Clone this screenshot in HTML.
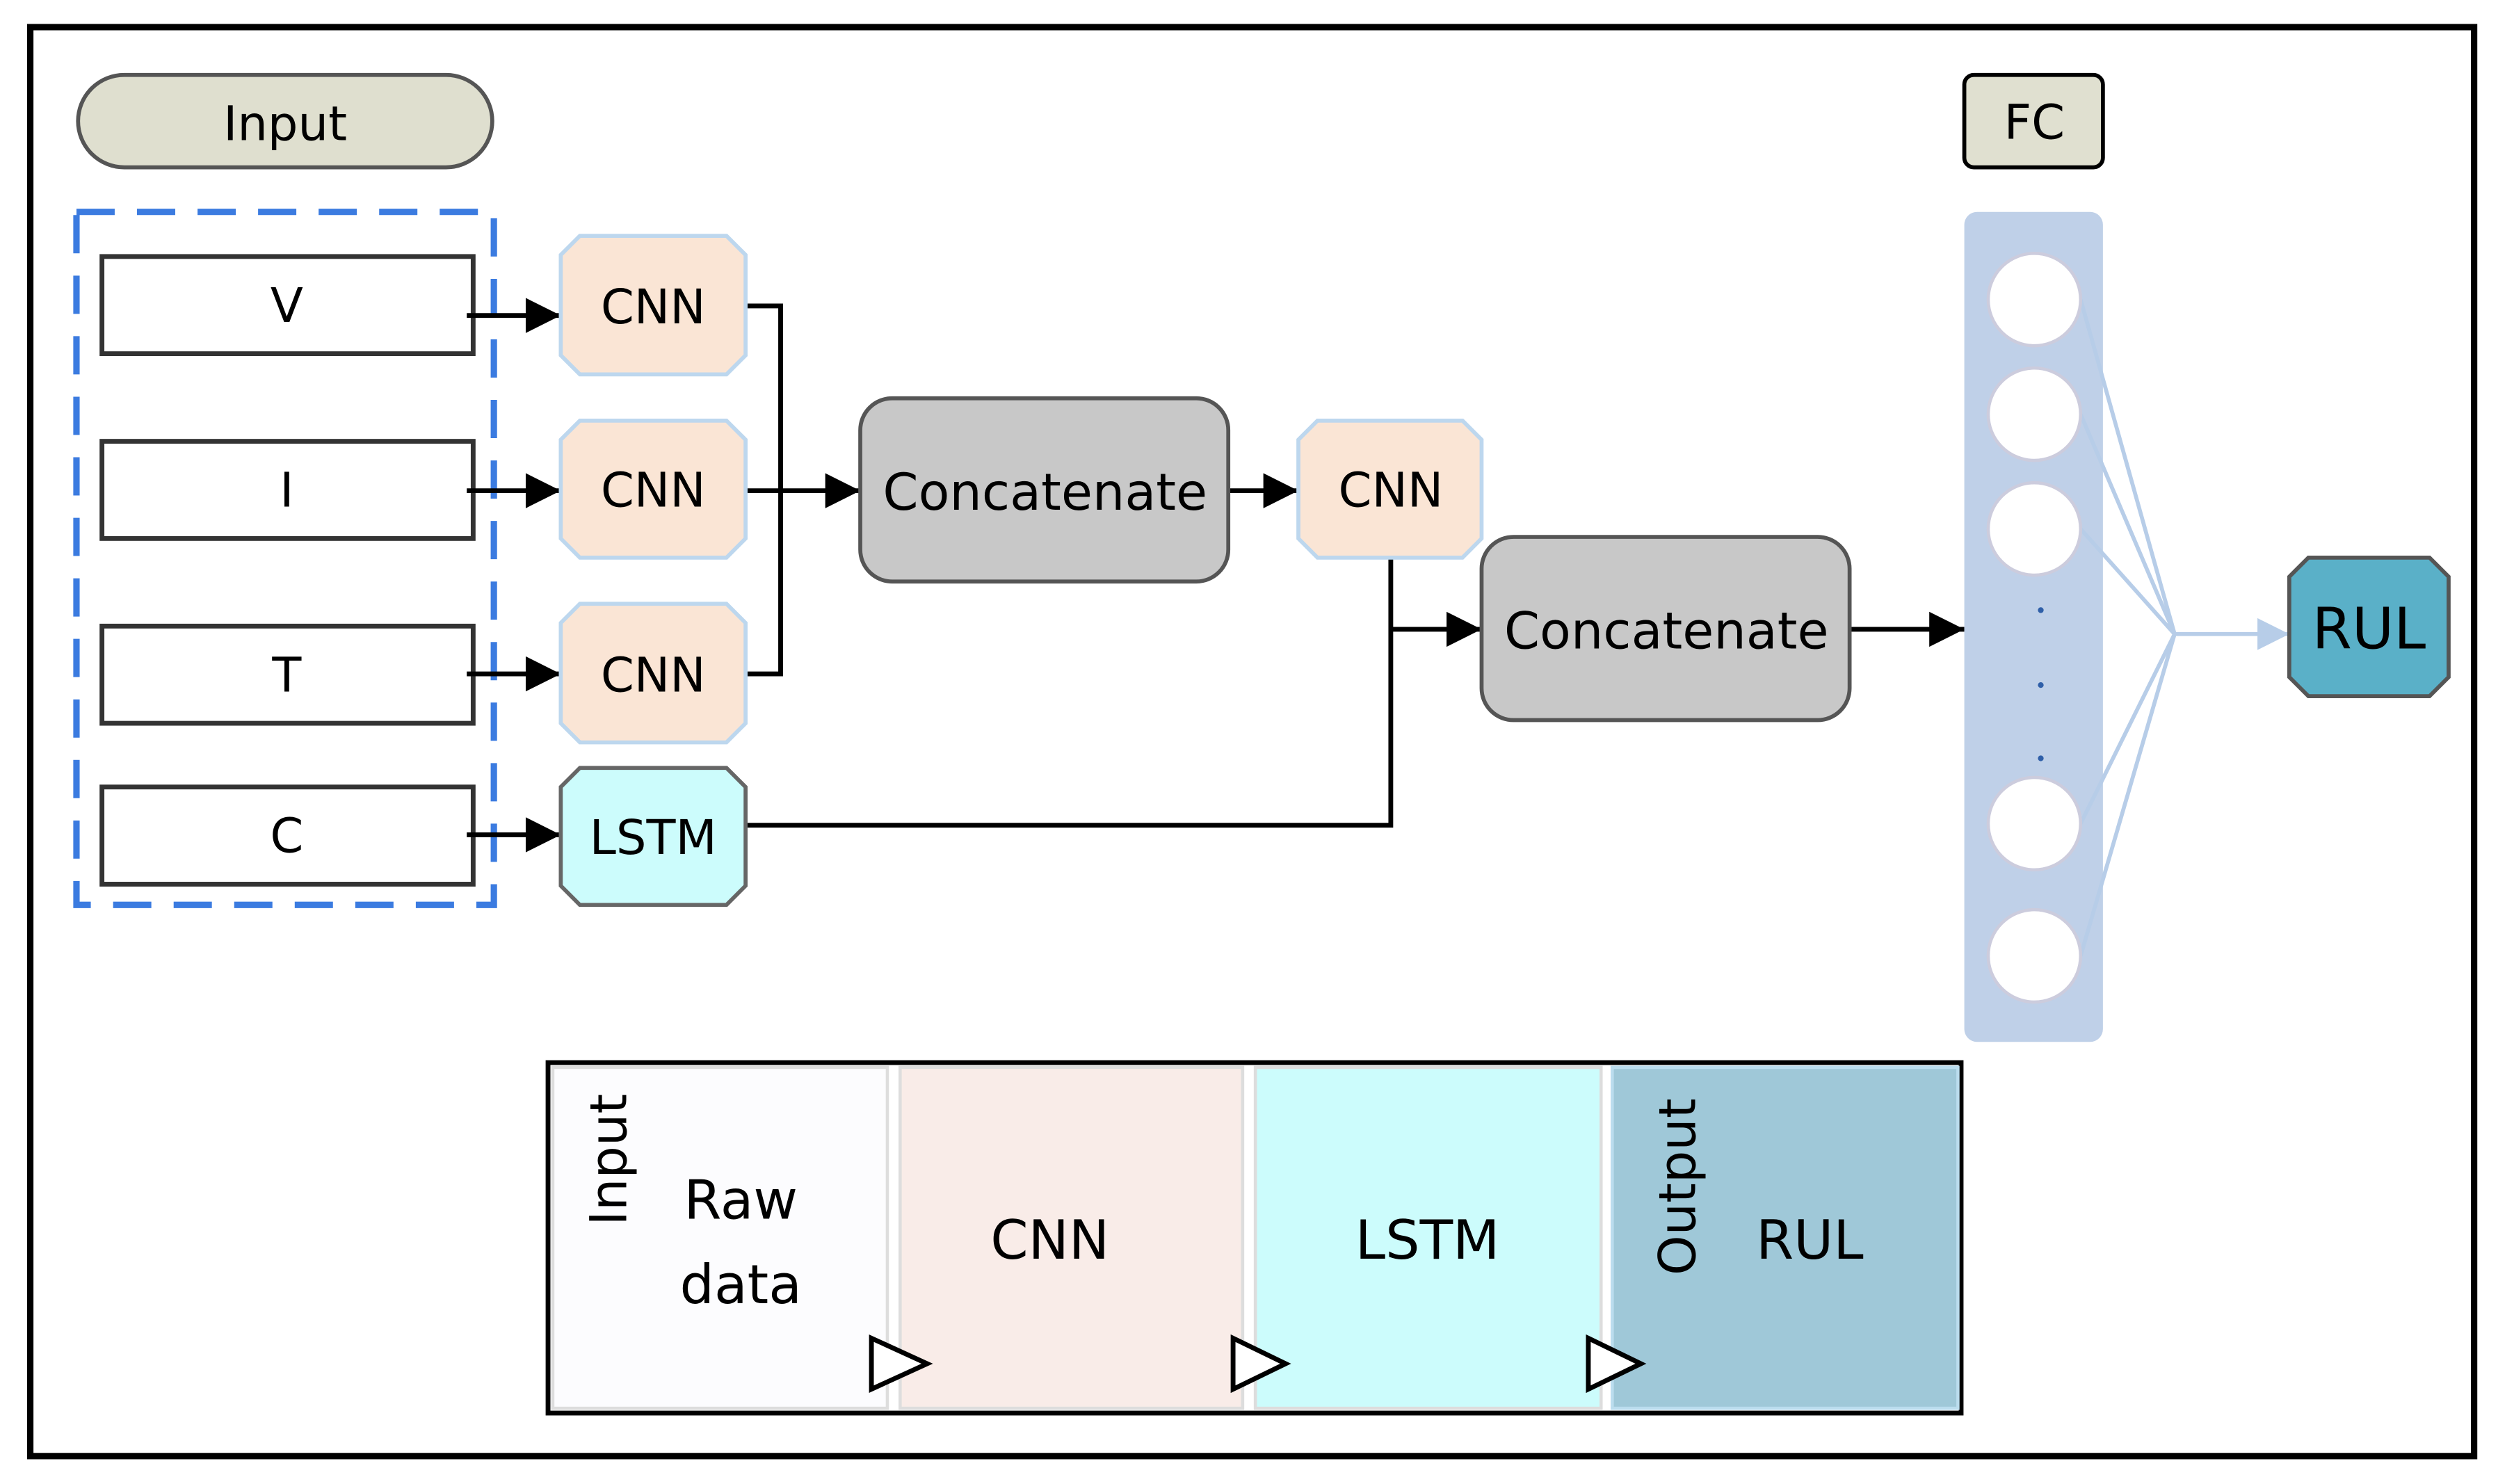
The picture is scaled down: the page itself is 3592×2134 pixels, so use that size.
<!DOCTYPE html>
<html><head><meta charset="utf-8"><style>html,body{margin:0;padding:0;background:#fff}svg{display:block}</style></head><body>
<svg width="3592" height="2134" viewBox="0 0 1568 931.5" xmlns="http://www.w3.org/2000/svg" font-family="'DejaVu Sans','Liberation Sans',sans-serif">
<defs>
<marker id="a" markerWidth="10" markerHeight="10" refX="9" refY="5" orient="auto" markerUnits="userSpaceOnUse"><path d="M0,0 L10,5 L0,10z" fill="#000" transform="scale(1)"/></marker>
<marker id="ab" viewBox="0 0 10 10" markerWidth="24" markerHeight="22" refX="10" refY="5" orient="auto" markerUnits="userSpaceOnUse"><path d="M0,0 L10,5 L0,10z" fill="#000"/></marker>
<marker id="al" viewBox="0 0 10 10" markerWidth="22" markerHeight="20" refX="10" refY="5" orient="auto" markerUnits="userSpaceOnUse"><path d="M0,0 L10,5 L0,10z" fill="#b7cde8"/></marker>
</defs>
<rect x="0" y="0" width="1568" height="932" fill="#fff"/>
<rect x="19" y="17" width="1534" height="897" fill="none" stroke="#000" stroke-width="4"/>
<rect x="49" y="47" width="260" height="58" rx="29" fill="#dfdfcf" stroke="#555" stroke-width="2.5"/>
<text x="179" y="88" font-size="30" text-anchor="middle">Input</text>
<rect x="48" y="133" width="262" height="435" fill="none" stroke="#3b7be0" stroke-width="4" stroke-dasharray="24 14"/>
<g fill="#fff" stroke="#333" stroke-width="3">
<rect x="64" y="161" width="233" height="61"/><rect x="64" y="277" width="233" height="61"/>
<rect x="64" y="393" width="233" height="61"/><rect x="64" y="494" width="233" height="61"/>
</g>
<g font-size="30" text-anchor="middle">
<text x="180" y="202">V</text><text x="180" y="318">I</text><text x="180" y="434">T</text><text x="180" y="535">C</text>
</g>
<g stroke="#000" stroke-width="3" fill="none">
<line x1="293" y1="198" x2="352" y2="198" marker-end="url(#ab)"/>
<line x1="293" y1="308" x2="352" y2="308" marker-end="url(#ab)"/>
<line x1="293" y1="423" x2="352" y2="423" marker-end="url(#ab)"/>
<line x1="293" y1="524" x2="352" y2="524" marker-end="url(#ab)"/>
<polyline points="468,192 490,192 490,423 468,423"/>
<line x1="468" y1="308" x2="540" y2="308" marker-end="url(#ab)"/>
<line x1="771" y1="308" x2="815" y2="308" marker-end="url(#ab)"/>
<polyline points="873,350 873,518 468,518"/>
<line x1="873" y1="395" x2="930" y2="395" marker-end="url(#ab)"/>
<line x1="1161" y1="395" x2="1233" y2="395" marker-end="url(#ab)"/>
</g>
<g stroke="#bdd7ee" stroke-width="2.5" fill="#fae5d5">
<path d="M364,148 L456,148 L468,160 L468,223 L456,235 L364,235 L352,223 L352,160z"/>
<path d="M364,264 L456,264 L468,276 L468,338 L456,350 L364,350 L352,338 L352,276z"/>
<path d="M364,379 L456,379 L468,391 L468,454 L456,466 L364,466 L352,454 L352,391z"/>
<path d="M827,264 L918,264 L930,276 L930,338 L918,350 L827,350 L815,338 L815,276z"/>
</g>
<path d="M364,482 L456,482 L468,494 L468,556 L456,568 L364,568 L352,556 L352,494z" fill="#ccfcfc" stroke="#666" stroke-width="2.5"/>
<g font-size="30" text-anchor="middle">
<text x="410" y="203">CNN</text><text x="410" y="318">CNN</text><text x="410" y="434">CNN</text>
<text x="873" y="318">CNN</text><text x="410" y="536">LSTM</text>
</g>
<rect x="540" y="250" width="231" height="115" rx="20" fill="#c8c8c8" stroke="#555" stroke-width="2.5"/>
<text x="656" y="320" font-size="32" text-anchor="middle">Concatenate</text>
<rect x="930" y="337" width="231" height="115" rx="20" fill="#c8c8c8" stroke="#555" stroke-width="2.5"/>
<text x="1046" y="407" font-size="32" text-anchor="middle">Concatenate</text>
<rect x="1233" y="47" width="87" height="58" rx="6" fill="#e0e0d0" stroke="#000" stroke-width="2.5"/>
<text x="1277" y="87" font-size="30" text-anchor="middle">FC</text>
<rect x="1233" y="133" width="87" height="521" rx="8" fill="#bfd0e8"/>
<g stroke="#b7cde8" stroke-width="2.5" fill="none">
<line x1="1306" y1="188" x2="1365" y2="398"/><line x1="1306" y1="260" x2="1365" y2="398"/>
<line x1="1306" y1="332" x2="1365" y2="398"/><line x1="1306" y1="517" x2="1365" y2="398"/>
<line x1="1306" y1="600" x2="1365" y2="398"/>
<line x1="1365" y1="398" x2="1437" y2="398" marker-end="url(#al)"/>
</g>
<g fill="#fff" stroke="#ccd" stroke-width="2">
<circle cx="1277" cy="188" r="29"/><circle cx="1277" cy="260" r="29"/><circle cx="1277" cy="332" r="29"/>
<circle cx="1277" cy="517" r="29"/><circle cx="1277" cy="600" r="29"/>
</g>
<g fill="#2f5fa8"><circle cx="1281" cy="383" r="1.8"/><circle cx="1281" cy="430" r="1.8"/><circle cx="1281" cy="476" r="1.8"/></g>
<path d="M1449,350 L1525,350 L1537,362 L1537,425 L1525,437 L1449,437 L1437,425 L1437,362z" fill="#5ab0c8" stroke="#555" stroke-width="2.5"/>
<text x="1487" y="407" font-size="36" text-anchor="middle">RUL</text>
<rect x="344" y="667" width="887" height="220" fill="#fff" stroke="#000" stroke-width="3"/>
<rect x="347" y="670" width="210" height="214" fill="#fcfcfe" stroke="#ddd" stroke-width="2"/>
<rect x="565" y="670" width="215" height="214" fill="#f9ece8" stroke="#ddd" stroke-width="2"/>
<rect x="788" y="670" width="217" height="214" fill="#ccfcfc" stroke="#ddd" stroke-width="2"/>
<rect x="1012" y="670" width="217" height="214" fill="#9fc8d8" stroke="#bde" stroke-width="2"/>
<g fill="#fff" stroke="#000" stroke-width="3">
<path d="M547,840 L582,856 L547,872z"/><path d="M774,840 L807,856 L774,872z"/><path d="M997,840 L1030,856 L997,872z"/>
</g>
<g font-size="34">
<text x="465" y="765" text-anchor="middle">Raw</text>
<text x="465" y="818" text-anchor="middle">data</text>
<text x="659" y="790" text-anchor="middle">CNN</text>
<text x="896" y="790" text-anchor="middle">LSTM</text>
<text x="1136" y="790" text-anchor="middle">RUL</text>
<text transform="translate(393,728) rotate(-90)" text-anchor="middle" font-size="32">Input</text>
<text transform="translate(1064,745) rotate(-90)" text-anchor="middle" font-size="32">Output</text>
</g>
</svg>
</body></html>
